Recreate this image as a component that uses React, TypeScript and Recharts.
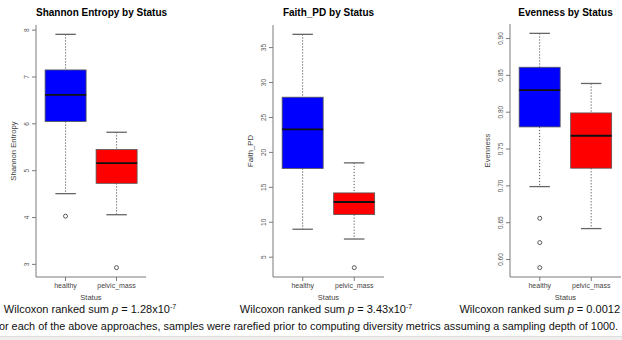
import React from 'react';
import { ComposedChart, Bar, Scatter, XAxis, YAxis } from 'recharts';

// groups
const statuses = ['healthy', 'pelvic_mass'];

// Shannon entropy box stats (per status)
const shannonLow = [4.51, 4.06];
const shannonQ1 = [6.05, 4.73];
const shannonMedian = [6.62, 5.16];
const shannonQ3 = [7.15, 5.45];
const shannonHigh = [7.91, 5.82];
const shannonOutliers = [[4.03], [2.93]];
const shannonTicks = [3, 4, 5, 6, 7, 8];

// Faith PD
const faithLow = [9.0, 7.6];
const faithQ1 = [17.7, 11.1];
const faithMedian = [23.3, 12.9];
const faithQ3 = [27.9, 14.2];
const faithHigh = [36.9, 18.5];
const faithOutliers: number[][] = [[], [3.5]];
const faithTicks = [5, 10, 15, 20, 25, 30, 35];

// Evenness
const evenLow = [0.699, 0.642];
const evenQ1 = [0.78, 0.724];
const evenMedian = [0.83, 0.768];
const evenQ3 = [0.861, 0.799];
const evenHigh = [0.907, 0.839];
const evenOutliers: number[][] = [[0.656, 0.623, 0.589], []];
const evenTicks = [0.6, 0.65, 0.7, 0.75, 0.8, 0.85, 0.9];

const boxColors = ['#0000FF', '#FF0000'];

const FONT = '"Liberation Sans", Arial, sans-serif';
const FRAME = '#7a7a7a';

function buildRows(low: number[], q1: number[], med: number[], q3: number[], high: number[]) {
  return statuses.map((status, i) => ({
    status,
    low: low[i],
    q1: q1[i],
    median: med[i],
    q3: q3[i],
    high: high[i],
    color: boxColors[i],
  }));
}

function buildOutliers(outs: number[][]) {
  const res: { status: string; value: number }[] = [];
  outs.forEach((list, i) => list.forEach((value) => res.push({ status: statuses[i], value })));
  return res;
}

// R-style axis range: data range plus 4% on each side
function rDomain(low: number[], high: number[], outs: number[][]): [number, number] {
  const all = [...low, ...high, ...outs.flat()];
  const mn = Math.min(...all);
  const mx = Math.max(...all);
  const pad = (mx - mn) * 0.04;
  return [mn - pad, mx + pad];
}

const BoxShape = (props: any) => {
  const { x, y, width, height, payload } = props;
  const top = Math.min(y, y + height);
  const h = Math.abs(height);
  const { low, high, q1, q3, median, color } = payload;
  const py = (v: number) => top + ((high - v) / (high - low)) * h;
  const cx = x + width / 2;
  const cap = width / 4;
  return (
    <g>
      <line x1={cx} x2={cx} y1={py(high)} y2={py(q3)} stroke="#555" strokeDasharray="1.2 1.8" />
      <line x1={cx} x2={cx} y1={py(q1)} y2={py(low)} stroke="#555" strokeDasharray="1.2 1.8" />
      <line x1={cx - cap} x2={cx + cap} y1={py(high)} y2={py(high)} stroke="#666" strokeWidth={1.3} />
      <line x1={cx - cap} x2={cx + cap} y1={py(low)} y2={py(low)} stroke="#666" strokeWidth={1.3} />
      <rect x={x} y={py(q3)} width={width} height={py(q1) - py(q3)} fill={color} stroke="#555" strokeWidth={0.8} />
      <line x1={x} x2={x + width} y1={py(median)} y2={py(median)} stroke="#111" strokeWidth={1.8} />
    </g>
  );
};

const OutlierDot = (props: any) => {
  const { cx, cy } = props;
  return <circle cx={cx} cy={cy} r={2} fill="none" stroke="#333" strokeWidth={0.8} />;
};

interface PanelProps {
  title: string;
  yLabel: string;
  left: number;
  frameWidth: number;
  marginTop: number;
  rows: ReturnType<typeof buildRows>;
  outliers: { status: string; value: number }[];
  domain: [number, number];
  ticks: number[];
  fmt: (v: number) => string;
}

function BoxPanel({ title, yLabel, left, frameWidth, marginTop, rows, outliers, domain, ticks, fmt }: PanelProps) {
  const yAxisW = 36;
  const chartW = yAxisW + frameWidth + 2;
  const YTick = (p: any) => {
    const bx = p.x - 3;
    return (
      <text
        x={bx}
        y={p.y}
        transform={`rotate(-90, ${bx}, ${p.y})`}
        textAnchor="middle"
        fontSize={6.5}
        fill="#555"
        fontFamily={FONT}
      >
        {fmt(p.payload.value)}
      </text>
    );
  };
  return (
    <div style={{ position: 'absolute', left, top: 0 }}>
      <div
        style={{
          position: 'absolute',
          left: yAxisW,
          width: frameWidth,
          top: 6,
          textAlign: 'center',
          fontWeight: 'bold',
          fontSize: 10,
          lineHeight: '14px',
          whiteSpace: 'nowrap',
          color: '#000',
        }}
      >
        {title}
      </div>
      <ComposedChart
        width={chartW}
        height={300}
        data={rows}
        margin={{ top: marginTop, right: 2, bottom: 0, left: 0 }}
        barCategoryGap="10%"
      >
        <XAxis
          dataKey="status"
          type="category"
          allowDuplicatedCategory={false}
          height={23}
          padding={{ left: 4, right: 4 }}
          tickSize={4}
          tickMargin={2}
          stroke={FRAME}
          tick={{ fontSize: 7, fill: '#444', fontFamily: FONT }}
          interval={0}
          label={{
            content: (lp: any) => (
              <text
                x={lp.viewBox.x + lp.viewBox.width / 2}
                y={lp.viewBox.y + 22.5}
                textAnchor="middle"
                fontSize={7.5}
                fill="#444"
                fontFamily={FONT}
              >
                Status
              </text>
            ),
          }}
        />
        <XAxis xAxisId="top" orientation="top" dataKey="status" height={0} tick={false} tickLine={false} stroke={FRAME} />
        <YAxis
          type="number"
          domain={domain}
          ticks={ticks}
          width={yAxisW}
          tickSize={4}
          tickMargin={0}
          stroke={FRAME}
          tick={<YTick />}
          allowDataOverflow
          label={{
            content: (lp: any) => {
              const cy = lp.viewBox.y + lp.viewBox.height / 2;
              const bx = 16;
              return (
                <text
                  x={bx}
                  y={cy}
                  transform={`rotate(-90, ${bx}, ${cy})`}
                  textAnchor="middle"
                  fontSize={7.7}
                  fill="#444"
                  fontFamily={FONT}
                >
                  {yLabel}
                </text>
              );
            },
          }}
        />
        <YAxis yAxisId="right" orientation="right" width={0} tick={false} tickLine={false} stroke={FRAME} />
        <Bar dataKey={(d: any) => [d.low, d.high]} shape={<BoxShape />} isAnimationActive={false} />
        <Scatter data={outliers} dataKey="value" shape={<OutlierDot />} isAnimationActive={false} />
      </ComposedChart>
    </div>
  );
}

const shannonRows = buildRows(shannonLow, shannonQ1, shannonMedian, shannonQ3, shannonHigh);
const faithRows = buildRows(faithLow, faithQ1, faithMedian, faithQ3, faithHigh);
const evenRows = buildRows(evenLow, evenQ1, evenMedian, evenQ3, evenHigh);

export default function App() {
  const pText: React.CSSProperties = {
    position: 'absolute',
    top: 303,
    fontSize: 11,
    lineHeight: '13px',
    whiteSpace: 'nowrap',
    color: '#111',
  };
  return (
    <div
      style={{
        position: 'absolute',
        left: 0,
        top: 0,
        width: 622,
        height: 340,
        background: '#fff',
        overflow: 'hidden',
        fontFamily: FONT,
      }}
    >
      <BoxPanel
        title="Shannon Entropy by Status"
        yLabel="Shannon Entropy"
        left={0}
        frameWidth={110}
        marginTop={25}
        rows={shannonRows}
        outliers={buildOutliers(shannonOutliers)}
        domain={rDomain(shannonLow, shannonHigh, shannonOutliers)}
        ticks={shannonTicks}
        fmt={(v) => String(v)}
      />
      <BoxPanel
        title="Faith_PD by Status"
        yLabel="Faith_PD"
        left={237}
        frameWidth={111}
        marginTop={25}
        rows={faithRows}
        outliers={buildOutliers(faithOutliers)}
        domain={rDomain(faithLow, faithHigh, faithOutliers)}
        ticks={faithTicks}
        fmt={(v) => String(v)}
      />
      <BoxPanel
        title="Evenness by Status"
        yLabel="Evenness"
        left={474}
        frameWidth={111}
        marginTop={24}
        rows={evenRows}
        outliers={buildOutliers(evenOutliers)}
        domain={rDomain(evenLow, evenHigh, evenOutliers)}
        ticks={evenTicks}
        fmt={(v) => v.toFixed(2)}
      />

      <div style={{ ...pText, left: 0, width: 180, textAlign: 'center' }}>
        Wilcoxon ranked sum <i>p</i> = 1.28x10<sup style={{ fontSize: 7, verticalAlign: 4, lineHeight: 0 }}>-7</sup>
      </div>
      <div style={{ ...pText, left: 236, width: 180, textAlign: 'center' }}>
        Wilcoxon ranked sum <i>p</i> = 3.43x10<sup style={{ fontSize: 7, verticalAlign: 4, lineHeight: 0 }}>-7</sup>
      </div>
      <div style={{ ...pText, right: 2, textAlign: 'right' }}>
        Wilcoxon ranked sum <i>p</i> = 0.0012
      </div>

      <div
        style={{
          position: 'absolute',
          left: 0,
          top: 320,
          width: 618,
          overflow: 'hidden',
          direction: 'rtl',
          fontSize: 10.85,
          lineHeight: '13px',
          whiteSpace: 'nowrap',
          color: '#111',
        }}
      >
        <span style={{ direction: 'ltr', unicodeBidi: 'bidi-override' }}>
          For each of the above approaches, samples were rarefied prior to computing diversity metrics assuming a sampling depth of 1000.
        </span>
      </div>
      <div
        style={{
          position: 'absolute',
          left: 0,
          top: 336,
          width: 622,
          height: 4,
          background: '#efefef',
          borderTop: '1px solid #dedede',
        }}
      />
    </div>
  );
}
